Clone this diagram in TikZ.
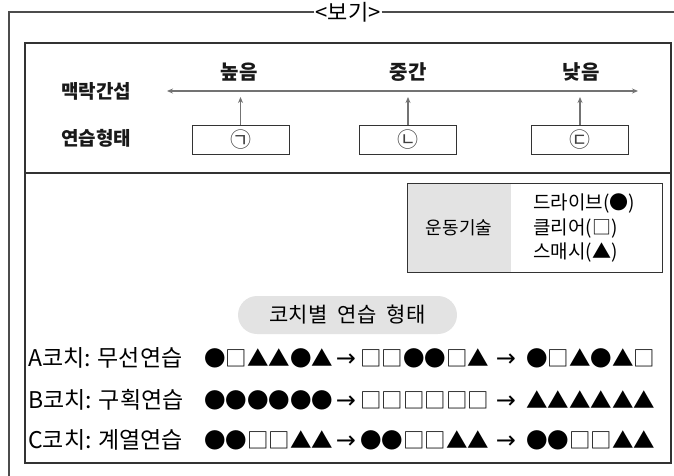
\documentclass[tikz,border=0pt]{standalone}
\usepackage{fontspec}
\newfontfamily\kr{Noto Sans CJK KR}
\newfontfamily\dv{DejaVu Sans}
\usetikzlibrary{arrows.meta}
\begin{document}
\begin{tikzpicture}[x=1pt,y=-1pt,
  outer/.style={draw=black!70, line width=1.1pt},
  innerframe/.style={draw=black!80, line width=1.1pt},
  lbl/.style={font=\kr\bfseries\fontsize{19}{20}\selectfont, inner sep=0pt, text=black!90},
  toplbl/.style={font=\kr\bfseries\fontsize{20}{22}\selectfont, inner sep=0pt, text=black!90},
  ar/.style={draw=black!55, line width=1.1pt, -{Stealth[length=6pt,width=5pt]}},
  kbox/.style={draw=black!80, line width=0.9pt, minimum width=97pt, minimum height=29pt, inner sep=0pt, font=\kr\fontsize{21}{22}\selectfont, text=black!75},
  legtxt/.style={font=\kr\fontsize{19}{24.5}\selectfont, inner sep=0pt},
  rowlbl/.style={font=\kr\fontsize{23}{26}\selectfont, inner sep=0pt, anchor=base west},
  symb/.style={font=\kr\fontsize{21.5}{24}\selectfont, inner sep=0pt, anchor=base west},
  arw/.style={font=\dv\fontsize{24}{26}\selectfont, inner sep=0pt, anchor=base}
]
\useasboundingbox (0,0) rectangle (674,475);
% outer frame with title
\node[font=\kr\fontsize{22}{24}\selectfont, inner sep=1pt] (title) at (348,12) {<보기>};
\draw[outer] (title.west) -- (9,12) -- (9,476);
\draw[outer] (title.east) -- (675,12);
% inner box
\draw[innerframe] (25,43) rectangle (671,463);
\draw[innerframe] (25,173) -- (671,173);
% top section
\node[lbl] (mr) at (96,91) {맥락간섭};
\node[lbl] (yf) at (96,138) {연습형태};
\coordinate (La) at (167,91);
\coordinate (Ra) at (638,91);
\draw[ar, {Stealth[length=6pt,width=5pt]}-{Stealth[length=6pt,width=5pt]}] (La) -- (Ra);
\node[toplbl] (hi) at (239,72) {높음};
\node[toplbl] (mid) at (408,72) {중간};
\node[toplbl] (lo) at (581,72) {낮음};
\node[kbox] (b1) at (240.5,139.5) {㉠};
\node[kbox] (b2) at (408,139.5) {㉡};
\node[kbox] (b3) at (580,139.5) {㉢};
\coordinate (t1) at (240.5,97);
\coordinate (t2) at (408,97);
\coordinate (t3) at (580,97);
\draw[ar] (b1.north) -- (t1);
\draw[ar] (b2.north) -- (t2);
\draw[ar] (b3.north) -- (t3);
% legend
\fill[black!11] (407,183) rectangle (511,272);
\node[draw=black!80, line width=1pt, minimum width=255pt, minimum height=89pt, inner sep=0pt] (leg) at (534.5,227.5) {};
\node[legtxt, font=\kr\fontsize{18}{24.5}\selectfont] (legk) at (459,228) {운동기술};
\node[legtxt, anchor=west, align=left] (legv) at (533,228) {드라이브(●)\\클리어(□)\\스매시(▲)};
% pill
\node[fill=black!11, rounded corners=19pt, minimum width=219pt, minimum height=38pt, inner sep=0pt,
  font=\kr\fontsize{21}{22}\selectfont] (pill) at (347.5,315) {코치별\hspace{0.5em}연습\hspace{0.5em}형태};
% rows
\node[rowlbl] (ra) at (28,366) {A코치:\hspace{0.3em}무선연습};
\node[symb] (a1) at (204,366) {●□▲▲●▲};
\node[arw] (aa1) at (346,366) {→};
\node[symb] (a2) at (360,366) {□□●●□▲};
\node[arw] (aa2) at (506,366) {→};
\node[symb] (a3) at (526,366) {●□▲●▲□};
\node[rowlbl] (rb) at (28,408) {B코치:\hspace{0.3em}구획연습};
\node[symb] (b1s) at (204,408) {●●●●●●};
\node[arw] (ba1) at (346,408) {→};
\node[symb] (b2s) at (360,408) {□□□□□□};
\node[arw] (ba2) at (506,408) {→};
\node[symb] (b3s) at (526,408) {▲▲▲▲▲▲};
\node[rowlbl] (rc) at (28,448) {C코치:\hspace{0.3em}계열연습};
\node[symb] (c1) at (204,448) {●●□□▲▲};
\node[arw] (ca1) at (346,448) {→};
\node[symb] (c2) at (360,448) {●●□□▲▲};
\node[arw] (ca2) at (506,448) {→};
\node[symb] (c3) at (526,448) {●●□□▲▲};
\end{tikzpicture}
\end{document}
